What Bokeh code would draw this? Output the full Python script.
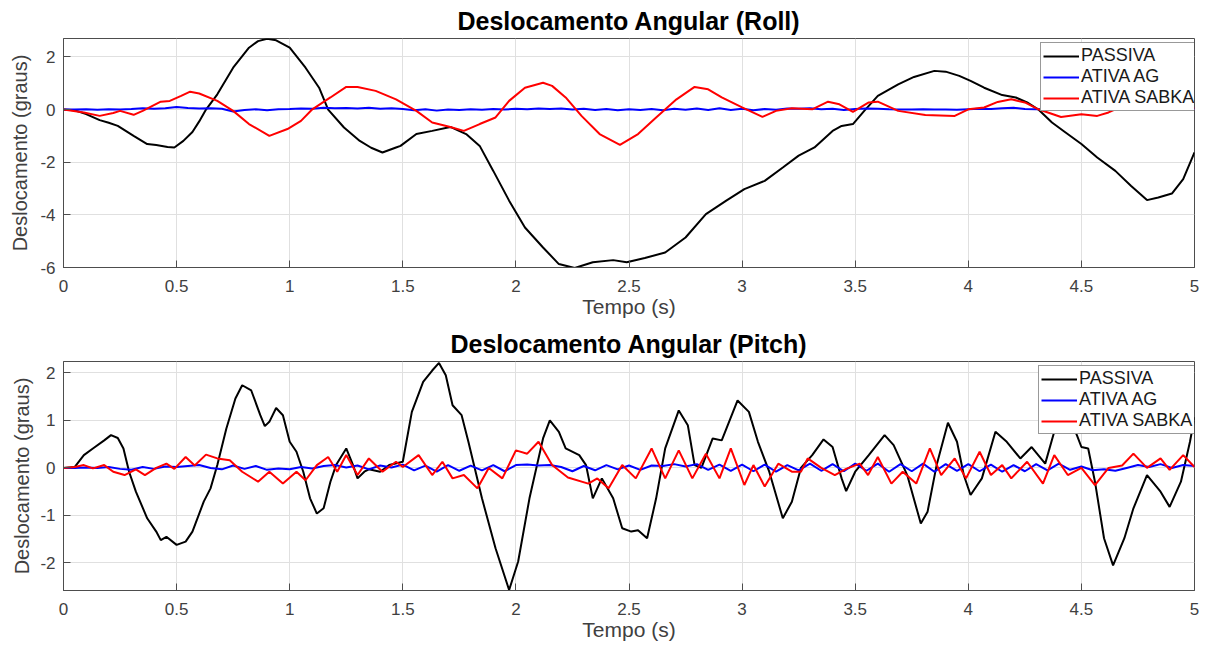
import numpy as np
from bokeh.plotting import figure
from bokeh.layouts import column
from bokeh.models import FixedTicker, NumeralTickFormatter, Range1d, Legend, LegendItem
from bokeh.embed import file_html
from bokeh.resources import INLINE

# ---------------- data: Roll ----------------
roll_passiva_t = [0.00, 0.05, 0.10, 0.16, 0.20, 0.24, 0.31, 0.37, 0.41, 0.46, 0.49, 0.53, 0.57, 0.60,
                  0.63, 0.68, 0.75, 0.82, 0.86, 0.90, 0.94, 1.00, 1.07, 1.13, 1.17, 1.24, 1.31, 1.36,
                  1.41, 1.47, 1.49, 1.56, 1.63, 1.71, 1.78, 1.84, 1.90, 1.97, 2.04, 2.12, 2.19, 2.26,
                  2.34, 2.43, 2.49, 2.57, 2.66, 2.75, 2.84, 2.93, 3.01, 3.10, 3.18, 3.25, 3.32, 3.40,
                  3.44, 3.49, 3.54, 3.60, 3.69, 3.76, 3.85, 3.90, 3.96, 4.01, 4.07, 4.15, 4.21, 4.26,
                  4.31, 4.37, 4.43, 4.50, 4.57, 4.65, 4.72, 4.79, 4.84, 4.90, 4.95, 5.00]
roll_passiva_y = [0.00, -0.03, -0.17, -0.40, -0.50, -0.62, -1.00, -1.31, -1.35, -1.42, -1.44, -1.19, -0.85, -0.45,
                  0.00, 0.58, 1.59, 2.35, 2.60, 2.69, 2.63, 2.35, 1.59, 0.83, 0.00, -0.68, -1.19, -1.45,
                  -1.63, -1.44, -1.38, -0.93, -0.81, -0.66, -0.93, -1.38, -2.33, -3.46, -4.48, -5.24, -5.87, -6.02,
                  -5.80, -5.72, -5.80, -5.64, -5.43, -4.86, -3.97, -3.46, -3.02, -2.71, -2.20, -1.75, -1.44, -0.81,
                  -0.62, -0.55, -0.05, 0.52, 0.96, 1.24, 1.47, 1.44, 1.28, 1.09, 0.83, 0.55, 0.46, 0.27,
                  0.00, -0.49, -0.87, -1.31, -1.82, -2.33, -2.90, -3.44, -3.34, -3.19, -2.64, -1.63]

roll_sabka_t = [0.00, 0.09, 0.16, 0.22, 0.25, 0.31, 0.35, 0.43, 0.47, 0.52, 0.56, 0.60, 0.68, 0.75,
                0.82, 0.91, 0.99, 1.05, 1.10, 1.18, 1.25, 1.30, 1.38, 1.47, 1.56, 1.63, 1.71, 1.77,
                1.84, 1.91, 1.97, 2.04, 2.12, 2.16, 2.22, 2.29, 2.37, 2.46, 2.54, 2.62, 2.71, 2.79,
                2.85, 2.91, 3.00, 3.09, 3.15, 3.22, 3.31, 3.38, 3.43, 3.49, 3.56, 3.60, 3.69, 3.81,
                3.94, 4.00, 4.07, 4.13, 4.19, 4.25, 4.31, 4.41, 4.50, 4.57, 4.62, 4.66, 4.75, 4.85, 5.00]
roll_sabka_y = [0.00, -0.11, -0.24, -0.13, -0.05, -0.20, -0.05, 0.30, 0.33, 0.52, 0.68, 0.61, 0.33, -0.05,
                -0.55, -1.00, -0.74, -0.43, 0.01, 0.46, 0.86, 0.86, 0.71, 0.39, -0.05, -0.49, -0.66, -0.81,
                -0.55, -0.30, 0.33, 0.83, 1.02, 0.90, 0.46, -0.24, -0.93, -1.34, -0.93, -0.30, 0.39, 0.86,
                0.77, 0.46, 0.08, -0.28, -0.05, 0.05, 0.01, 0.30, 0.20, -0.09, 0.27, 0.30, -0.05, -0.21,
                -0.24, 0.01, 0.08, 0.29, 0.39, 0.27, 0.01, -0.28, -0.18, -0.24, -0.11, 0.05, 0.06, 0.05, 0.05]

ag_t = [round(0.05 * i, 2) for i in range(101)]
roll_ag_y = [0.00, 0.00, 0.01, -0.01, 0.01, 0.00, 0.02, 0.05, 0.03, 0.05,
             0.10, 0.06, 0.04, 0.05, 0.03, -0.07, -0.02, 0.01, -0.03, 0.01,
             0.02, 0.04, 0.03, 0.07, 0.05, 0.06, 0.04, 0.07, 0.03, 0.05,
             0.02, -0.03, 0.01, -0.04, 0.00, -0.02, 0.01, -0.01, 0.02, 0.00,
             0.03, 0.01, 0.04, 0.02, 0.04, 0.00, 0.03, -0.02, 0.02, -0.03,
             0.01, -0.02, 0.02, -0.03, 0.03, -0.01, 0.04, -0.02, 0.05, -0.02,
             0.03, -0.03, 0.02, -0.01, 0.04, 0.03, 0.05, 0.01, 0.03, -0.02,
             0.02, 0.04, 0.03, 0.01, 0.00, 0.00, 0.01, 0.00, 0.00, -0.01,
             0.01, 0.03, 0.02, 0.05, 0.07, 0.02, 0.01, 0.03, 0.02, 0.04,
             0.02, 0.03, 0.01, 0.04, 0.02, 0.03, 0.03, 0.02, 0.04, 0.03,
             0.03]

# ---------------- data: Pitch ----------------
pitch_passiva_t = [0.00, 0.05, 0.09, 0.13, 0.18, 0.21, 0.24, 0.265, 0.29, 0.32, 0.37, 0.41, 0.43, 0.455,
                   0.50, 0.54, 0.57, 0.62, 0.65, 0.68, 0.72, 0.76, 0.79, 0.83, 0.87, 0.89, 0.91, 0.94,
                   0.97, 1.00, 1.03, 1.06, 1.09, 1.12, 1.15, 1.18, 1.205, 1.25, 1.28, 1.30, 1.33, 1.35,
                   1.40, 1.44, 1.50, 1.54, 1.59, 1.63, 1.66, 1.69, 1.72, 1.76, 1.79, 1.85, 1.91, 1.97,
                   2.01, 2.06, 2.12, 2.15, 2.19, 2.22, 2.28, 2.31, 2.34, 2.38, 2.43, 2.47, 2.51, 2.54,
                   2.58, 2.62, 2.66, 2.72, 2.76, 2.79, 2.82, 2.87, 2.91, 2.98, 3.03, 3.07, 3.12, 3.18,
                   3.22, 3.26, 3.31, 3.36, 3.40, 3.44, 3.46, 3.50, 3.56, 3.63, 3.67, 3.73, 3.79, 3.82,
                   3.86, 3.91, 3.95, 3.98, 4.01, 4.06, 4.12, 4.17, 4.23, 4.28, 4.34, 4.38, 4.42, 4.46,
                   4.48, 4.50, 4.53, 4.56, 4.60, 4.64, 4.69, 4.73, 4.79, 4.85, 4.89, 4.94, 4.98, 5.00]
pitch_passiva_y = [0.00, 0.02, 0.27, 0.41, 0.58, 0.69, 0.63, 0.41, -0.08, -0.50, -1.06, -1.34, -1.52, -1.45,
                   -1.62, -1.55, -1.34, -0.71, -0.43, 0.06, 0.83, 1.46, 1.74, 1.63, 1.11, 0.88, 0.97, 1.26,
                   1.11, 0.55, 0.34, -0.08, -0.64, -0.96, -0.85, -0.29, 0.06, 0.41, 0.06, -0.22, -0.08, -0.03,
                   -0.08, 0.06, 0.13, 1.18, 1.81, 2.05, 2.21, 1.95, 1.32, 1.11, 0.55, -0.64, -1.69, -2.57,
                   -1.97, -0.64, 0.62, 1.00, 0.76, 0.41, 0.27, 0.06, -0.64, -0.22, -0.64, -1.27, -1.34, -1.31,
                   -1.48, -0.64, 0.41, 1.21, 0.90, 0.06, 0.00, 0.62, 0.58, 1.42, 1.18, 0.55, -0.08, -1.06,
                   -0.71, 0.00, 0.27, 0.60, 0.44, -0.22, -0.49, -0.08, 0.27, 0.69, 0.48, -0.15, -1.17, -0.92,
                   0.06, 0.95, 0.55, -0.15, -0.57, -0.22, 0.76, 0.55, 0.20, 0.44, 0.09, 0.76, 1.25, 0.90,
                   0.69, 0.44, 0.41, -0.29, -1.48, -2.05, -1.48, -0.85, -0.15, -0.50, -0.82, -0.29, 0.55, 1.07]

pitch_sabka_t = [0.00, 0.05, 0.09, 0.13, 0.18, 0.22, 0.27, 0.32, 0.36, 0.41, 0.455, 0.49, 0.54, 0.58,
                 0.63, 0.68, 0.735, 0.79, 0.86, 0.91, 0.97, 1.03, 1.07, 1.12, 1.17, 1.21, 1.25, 1.30,
                 1.35, 1.41, 1.47, 1.50, 1.57, 1.63, 1.675, 1.72, 1.77, 1.83, 1.88, 1.94, 2.00, 2.05,
                 2.10, 2.16, 2.23, 2.32, 2.36, 2.41, 2.47, 2.53, 2.60, 2.66, 2.72, 2.78, 2.84, 2.90,
                 2.95, 3.01, 3.05, 3.10, 3.16, 3.22, 3.26, 3.29, 3.35, 3.41, 3.46, 3.52, 3.557, 3.60,
                 3.66, 3.71, 3.77, 3.83, 3.88, 3.94, 3.99, 4.05, 4.10, 4.15, 4.19, 4.26, 4.33, 4.38,
                 4.44, 4.50, 4.56, 4.62, 4.68, 4.73, 4.79, 4.85, 4.89, 4.95, 5.00]
pitch_sabka_y = [0.00, 0.02, 0.06, -0.01, 0.06, -0.08, -0.15, -0.03, -0.15, 0.00, 0.09, -0.02, 0.23, 0.05,
                 0.28, 0.20, 0.16, -0.08, -0.29, -0.08, -0.33, -0.08, -0.26, 0.06, 0.23, -0.08, 0.27, -0.15,
                 0.20, -0.08, 0.13, 0.02, 0.27, -0.15, 0.13, -0.22, -0.15, -0.43, 0.00, -0.22, 0.37, 0.30,
                 0.55, 0.06, -0.20, -0.33, -0.22, -0.43, 0.06, -0.22, 0.41, -0.22, 0.37, -0.22, 0.30, -0.22,
                 0.41, -0.36, 0.06, -0.39, 0.09, -0.08, -0.08, 0.20, 0.00, -0.15, -0.02, 0.09, -0.15, 0.23,
                 -0.33, -0.08, -0.33, 0.41, -0.15, 0.20, -0.22, 0.34, -0.15, 0.06, -0.22, 0.13, -0.33, 0.27,
                 -0.15, 0.00, -0.36, 0.00, 0.05, 0.30, 0.00, 0.20, -0.04, 0.27, 0.02]

pitch_ag_y = [0.00, 0.00, 0.01, 0.00, 0.02, -0.02, -0.04, 0.02, -0.02, 0.03,
              0.02, 0.04, 0.06, 0.00, -0.03, 0.05, -0.02, 0.04, -0.04, -0.01,
              -0.03, 0.02, -0.01, 0.04, 0.06, 0.01, 0.05, -0.03, 0.05, 0.01,
              0.07, -0.05, 0.05, -0.08, 0.06, -0.06, 0.05, -0.05, 0.06, -0.07,
              0.06, 0.07, 0.05, 0.06, 0.02, -0.07, 0.04, -0.05, 0.06, -0.03,
              0.05, -0.04, 0.05, 0.04, 0.08, 0.03, 0.08, -0.04, 0.07, -0.06,
              0.07, -0.07, 0.07, -0.08, 0.06, -0.05, 0.09, -0.06, 0.08, -0.07,
              0.09, -0.06, 0.09, -0.08, 0.08, -0.07, 0.09, -0.08, 0.08, -0.06,
              0.08, -0.07, 0.07, -0.08, 0.06, -0.07, 0.08, -0.05, 0.09, -0.04,
              0.03, -0.05, -0.03, -0.06, 0.00, 0.06, 0.02, 0.08, 0.00, 0.06,
              0.04]

x_ticks = [0, 0.5, 1, 1.5, 2, 2.5, 3, 3.5, 4, 4.5, 5]
roll_y_ticks = [-6, -4, -2, 0, 2]
pitch_y_ticks = [-2, -1, 0, 1, 2]
legend_labels = ["PASSIVA", "ATIVA AG", "ATIVA SABKA"]
colors = ["#000000", "#0000ff", "#ff0000"]

FONT = "Liberation Sans"
AXIS_COL = "#4d4d4d"
TEXT_COL = "#404040"


def make_fig(title, yr, yticks, height, left, right, top, bottom, ylab_standoff):
    p = figure(width=1201, height=height, output_backend="svg", toolbar_location=None,
               x_range=Range1d(0, 5), y_range=Range1d(*yr),
               min_border_left=left, min_border_right=right,
               min_border_top=top, min_border_bottom=bottom)
    p.title.text = title
    p.title.align = "center"
    p.title.text_font = FONT
    p.title.text_font_size = "25px"
    p.title.text_font_style = "bold"
    p.title.text_color = "#000000"
    p.title.standoff = 8
    p.xaxis.ticker = FixedTicker(ticks=x_ticks)
    p.yaxis.ticker = FixedTicker(ticks=yticks)
    p.xaxis.formatter = NumeralTickFormatter(format="0.[0]")
    p.yaxis.formatter = NumeralTickFormatter(format="0")
    p.xaxis.axis_label = "Tempo (s)"
    p.yaxis.axis_label = "Deslocamento (graus)"
    for ax in (p.xaxis[0], p.yaxis[0]):
        ax.axis_label_text_font = FONT
        ax.axis_label_text_font_style = "normal"
        ax.axis_label_text_color = TEXT_COL
        ax.major_label_text_font = FONT
        ax.major_label_text_font_size = "17px"
        ax.major_label_text_color = TEXT_COL
        ax.axis_line_color = AXIS_COL
        ax.major_tick_line_color = AXIS_COL
        ax.major_tick_in = 7
        ax.major_tick_out = 0
        ax.minor_tick_line_color = None
    p.xaxis.axis_label_text_font_size = "21px"
    p.yaxis.axis_label_text_font_size = "20px"
    p.xaxis.major_label_standoff = 12
    p.yaxis.major_label_standoff = 8
    p.xaxis.axis_label_standoff = 0
    p.yaxis.axis_label_standoff = ylab_standoff
    p.grid.grid_line_color = "#e0e0e0"
    p.outline_line_color = AXIS_COL
    p.outline_line_alpha = 1
    p.outline_line_width = 1
    p.background_fill_color = "#ffffff"
    return p


def add_lines(p, series, loc):
    rs = []
    for (t, y), c in zip(series, colors):
        rs.append(p.line(t, y, line_color=c, line_width=2))
    items = [LegendItem(label=l, renderers=[r]) for l, r in zip(legend_labels, rs)]
    lg = Legend(items=items, location=loc)
    lg.label_text_font = FONT
    lg.label_text_font_size = "18px"
    lg.label_text_color = "#1a1a1a"
    lg.glyph_width = 36
    lg.glyph_height = 20
    lg.label_height = 20
    lg.label_standoff = 2
    lg.padding = 2
    lg.spacing = 0
    lg.margin = 0
    lg.border_line_color = "#333333"
    lg.border_line_width = 1
    lg.background_fill_color = "#ffffff"
    lg.background_fill_alpha = 1
    p.add_layout(lg)


# Roll: frame 63..1197 x, 38..267 y (page coords)
p1 = make_fig("Deslocamento Angular (Roll)", (-6, 2.7), roll_y_ticks, 323, 63, 4, 38, 56, 6)
add_lines(p1, [(roll_passiva_t, roll_passiva_y), (ag_t, roll_ag_y), (roll_sabka_t, roll_sabka_y)], (977, 156))

# Pitch: frame 60..1194 x
p2 = make_fig("Deslocamento Angular (Pitch)", (-2.58, 2.24), pitch_y_ticks, 323, 60, 7, 37, 56, 4)
add_lines(p2, [(pitch_passiva_t, pitch_passiva_y), (ag_t, pitch_ag_y), (pitch_sabka_t, pitch_sabka_y)], (975, 156))

layout = column(p1, p2, spacing=0)
open("out.html", "w").write(file_html(layout, INLINE))
